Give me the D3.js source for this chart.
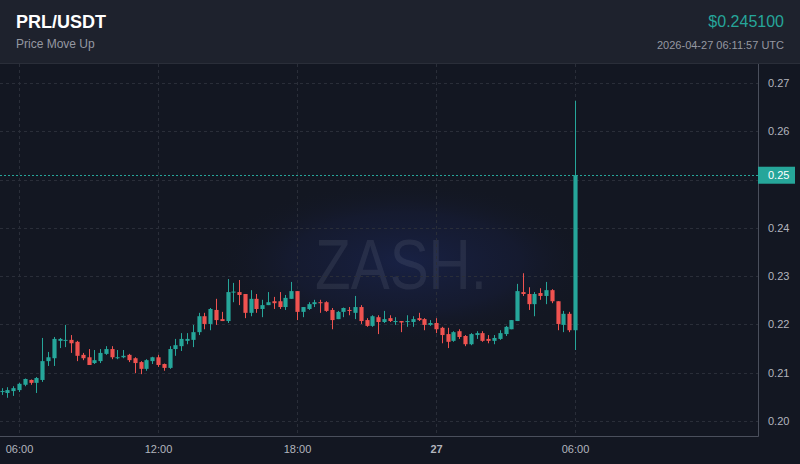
<!DOCTYPE html>
<html>
<head>
<meta charset="utf-8">
<script src="https://cdn.jsdelivr.net/npm/d3@7"></script>
<style>
  body { margin: 0; background: #131722; }
  svg { display: block; font-family: "Liberation Sans", Arial, sans-serif; }
</style>
</head>
<body>
<svg id="chart" width="800" height="464"></svg>
<script>
// 15 minute candles, 26 Apr 05:15 -> 27 Apr 06:00 UTC
var opens = [0.2060,0.2058,0.2062,0.2064,0.2075,0.2085,0.2079,0.2085,0.2124,0.2130,
  0.2166,0.2166,0.2168,0.2164,0.2137,0.2132,0.2120,0.2124,0.2139,0.2149,
  0.2131,0.2132,0.2137,0.2130,0.2122,0.2108,0.2124,0.2132,0.2118,0.2110,
  0.2149,0.2155,0.2166,0.2168,0.2184,0.2217,0.2201,0.2230,0.2211,0.2207,
  0.2266,0.2267,0.2263,0.2224,0.2253,0.2232,0.2240,0.2248,0.2248,0.2236,
  0.2253,0.2269,0.2226,0.2232,0.2242,0.2246,0.2246,0.2230,0.2211,0.2226,
  0.2230,0.2224,0.2236,0.2209,0.2197,0.2215,0.2205,0.2213,0.2206,0.2207,
  0.2206,0.2205,0.2213,0.2211,0.2199,0.2203,0.2193,0.2180,0.2166,0.2186,
  0.2176,0.2159,0.2178,0.2182,0.2170,0.2166,0.2170,0.2180,0.2190,0.2207,
  0.2267,0.2263,0.2242,0.2265,0.2259,0.2271,0.2248,0.2199,0.2222,0.2188];
var highs = [0.2068,0.2070,0.2072,0.2079,0.2088,0.2086,0.2091,0.2172,0.2143,0.2174,
  0.2172,0.2199,0.2178,0.2166,0.2141,0.2149,0.2147,0.2149,0.2155,0.2155,
  0.2147,0.2147,0.2139,0.2132,0.2124,0.2128,0.2133,0.2137,0.2119,0.2155,
  0.2170,0.2182,0.2182,0.2199,0.2224,0.2224,0.2234,0.2253,0.2226,0.2294,
  0.2286,0.2292,0.2263,0.2271,0.2263,0.2251,0.2267,0.2257,0.2267,0.2261,
  0.2288,0.2269,0.2236,0.2246,0.2251,0.2251,0.2248,0.2234,0.2228,0.2235,
  0.2236,0.2259,0.2240,0.2213,0.2219,0.2219,0.2228,0.2219,0.2215,0.2207,
  0.2219,0.2217,0.2224,0.2213,0.2209,0.2213,0.2195,0.2193,0.2186,0.2190,
  0.2178,0.2182,0.2186,0.2186,0.2178,0.2178,0.2188,0.2197,0.2209,0.2284,
  0.2306,0.2277,0.2267,0.2275,0.2288,0.2273,0.2248,0.2228,0.2226,0.2663];
var lows = [0.2054,0.2048,0.2052,0.2060,0.2072,0.2075,0.2058,0.2081,0.2114,0.2114,
  0.2151,0.2153,0.2141,0.2124,0.2126,0.2116,0.2118,0.2120,0.2137,0.2128,
  0.2128,0.2130,0.2122,0.2099,0.2097,0.2104,0.2118,0.2112,0.2104,0.2108,
  0.2135,0.2145,0.2159,0.2153,0.2178,0.2190,0.2188,0.2199,0.2207,0.2203,
  0.2246,0.2240,0.2213,0.2217,0.2224,0.2215,0.2240,0.2232,0.2232,0.2230,
  0.2253,0.2209,0.2215,0.2230,0.2236,0.2224,0.2226,0.2190,0.2211,0.2215,
  0.2219,0.2211,0.2201,0.2195,0.2195,0.2180,0.2203,0.2205,0.2199,0.2184,
  0.2195,0.2195,0.2207,0.2188,0.2197,0.2182,0.2161,0.2151,0.2164,0.2170,
  0.2155,0.2157,0.2170,0.2164,0.2161,0.2159,0.2168,0.2176,0.2190,0.2207,
  0.2259,0.2230,0.2217,0.2251,0.2242,0.2244,0.2188,0.2184,0.2184,0.2147];
var closes = [0.2062,0.2064,0.2068,0.2077,0.2087,0.2079,0.2089,0.2124,0.2132,0.2170,
  0.2170,0.2168,0.2161,0.2135,0.2130,0.2116,0.2126,0.2141,0.2149,0.2132,
  0.2132,0.2135,0.2126,0.2120,0.2108,0.2126,0.2132,0.2116,0.2110,0.2149,
  0.2157,0.2170,0.2170,0.2184,0.2217,0.2201,0.2232,0.2209,0.2207,0.2267,
  0.2268,0.2261,0.2224,0.2253,0.2232,0.2240,0.2246,0.2244,0.2236,0.2255,
  0.2269,0.2226,0.2236,0.2242,0.2246,0.2244,0.2228,0.2209,0.2226,0.2234,
  0.2228,0.2236,0.2207,0.2197,0.2217,0.2205,0.2211,0.2207,0.2207,0.2204,
  0.2207,0.2211,0.2209,0.2199,0.2203,0.2190,0.2178,0.2164,0.2184,0.2174,
  0.2159,0.2180,0.2182,0.2166,0.2166,0.2172,0.2182,0.2195,0.2209,0.2269,
  0.2263,0.2242,0.2263,0.2259,0.2271,0.2248,0.2201,0.2222,0.2188,0.2509];
var priceTicks = [0.20, 0.21, 0.22, 0.23, 0.24, 0.25, 0.26, 0.27];
var timeTicks = ["2026-04-26T06:00Z", "2026-04-26T12:00Z", "2026-04-26T18:00Z",
  "2026-04-27T00:00Z", "2026-04-27T06:00Z"];
var firstCandle = "2026-04-26T05:15Z";

var UP = "#26a69a", DOWN = "#ef5350";
var W = 800, H = 464;
var plot = {left: 0, right: 758, top: 64, bottom: 436};

var svg = d3.select("#chart");

var start = new Date(firstCandle);
var candles = closes.map(function(c, i){
    return {t: d3.utcMinute.offset(start, 15 * i), o: opens[i], h: highs[i], l: lows[i], c: c};
});
var last = candles[candles.length - 1];

// x scale: pin the 06:00 ticks, then stretch to the full plot width
var x = d3.scaleUtc()
    .domain([new Date(timeTicks[0]), new Date(timeTicks[4])])
    .range([19, 575]);
x.domain([x.invert(plot.left), x.invert(plot.right)]).range([plot.left, plot.right]);

var y = d3.scaleLinear().domain([0.20, 0.27]).range([421, 83]);

// background
svg.append("rect").attr("width", W).attr("height", H).attr("fill", "#131722");

// watermark glow
var defs = svg.append("defs");
var grad = defs.append("radialGradient").attr("id", "glow");
grad.append("stop").attr("offset", "0%").attr("stop-color", "#1d2b66").attr("stop-opacity", 0.5);
grad.append("stop").attr("offset", "60%").attr("stop-color", "#1a2350").attr("stop-opacity", 0.28);
grad.append("stop").attr("offset", "100%").attr("stop-color", "#131722").attr("stop-opacity", 0);
defs.append("clipPath").attr("id", "plotclip")
    .append("rect").attr("x", plot.left).attr("y", plot.top)
    .attr("width", plot.right - plot.left).attr("height", plot.bottom - plot.top);

var g = svg.append("g").attr("clip-path", "url(#plotclip)");

g.append("ellipse").attr("cx", 405).attr("cy", 262).attr("rx", 195).attr("ry", 82)
    .attr("fill", "url(#glow)");

g.append("text")
    .attr("x", 315).attr("y", 289)
    .attr("textLength", 172).attr("lengthAdjust", "spacingAndGlyphs")
    .style("font-size", "70px")
    .style("fill", "#8e93a0").style("fill-opacity", 0.14)
    .text("ZASH.");

// grid
g.selectAll(".hgrid").data(priceTicks).enter().append("line")
    .attr("x1", plot.left).attr("x2", plot.right)
    .attr("y1", function(d){ return Math.round(y(d)) + 0.5; })
    .attr("y2", function(d){ return Math.round(y(d)) + 0.5; })
    .style("stroke", "#2a2e39").style("stroke-dasharray", "3,3");

g.selectAll(".vgrid").data(timeTicks).enter().append("line")
    .attr("y1", plot.top).attr("y2", plot.bottom)
    .attr("x1", function(d){ return Math.round(x(new Date(d))) + 0.5; })
    .attr("x2", function(d){ return Math.round(x(new Date(d))) + 0.5; })
    .style("stroke", "#2a2e39").style("stroke-dasharray", "3,3");

// candles
var step = x(d3.utcMinute.offset(start, 15)) - x(start);
var bw = Math.max(1, step * 0.72);

var cg = g.selectAll(".candle").data(candles).enter().append("g");

cg.append("line")
    .attr("x1", function(d){ return Math.round(x(d.t)) + 0.5; })
    .attr("x2", function(d){ return Math.round(x(d.t)) + 0.5; })
    .attr("y1", function(d){ return y(d.h); })
    .attr("y2", function(d){ return y(d.l); })
    .style("stroke", function(d){ return d.c >= d.o ? UP : DOWN; })
    .style("stroke-width", 1);

cg.append("rect")
    .attr("x", function(d){ return Math.round(x(d.t)) + 0.5 - bw / 2; })
    .attr("width", bw)
    .attr("y", function(d){ return y(Math.max(d.o, d.c)); })
    .attr("height", function(d){ return Math.max(1, Math.abs(y(d.o) - y(d.c))); })
    .style("fill", function(d){ return d.c >= d.o ? UP : DOWN; });

// last price line
g.append("line")
    .attr("x1", plot.left).attr("x2", plot.right)
    .attr("y1", Math.round(y(last.c)) + 0.5).attr("y2", Math.round(y(last.c)) + 0.5)
    .style("stroke", UP).style("stroke-dasharray", "2,2").style("stroke-width", 1);

// axes borders
svg.append("line").attr("x1", plot.right + 0.5).attr("x2", plot.right + 0.5)
    .attr("y1", plot.top).attr("y2", plot.bottom + 0.5)
    .style("stroke", "#4a4f5c");
svg.append("line").attr("x1", plot.left).attr("x2", plot.right + 0.5)
    .attr("y1", plot.bottom + 0.5).attr("y2", plot.bottom + 0.5)
    .style("stroke", "#4a4f5c");

// price axis (the tick under the last-price tag is hidden, as the tag covers it)
var ty = y(last.c);
var yAxis = svg.append("g")
    .attr("transform", "translate(" + plot.right + ",0)")
    .call(d3.axisRight(y)
        .tickValues(priceTicks.filter(function(d){ return Math.abs(y(d) - ty) > 12; }))
        .tickFormat(d3.format(".2f")).tickSize(0).tickPadding(10));
yAxis.select(".domain").remove();
yAxis.selectAll("text")
    .style("font-size", "11px").style("fill", "#b2b5be")
    .attr("font-family", null);

// last price tag
svg.append("rect").attr("x", plot.right).attr("y", ty - 8.5).attr("width", 37).attr("height", 17)
    .attr("fill", UP);
svg.append("text").attr("x", plot.right + 10).attr("y", ty + 4)
    .style("font-size", "11px").style("fill", "#ffffff")
    .text(d3.format(".2f")(last.c));

// time axis
var xAxis = svg.append("g")
    .attr("transform", "translate(0," + plot.bottom + ")")
    .call(d3.axisBottom(x)
        .tickValues(timeTicks.map(function(d){ return new Date(d); }))
        .tickFormat(function(d){
            return d.getUTCHours() === 0 ? d3.utcFormat("%-d")(d) : d3.utcFormat("%H:%M")(d);
        })
        .tickSize(0).tickPadding(9));
xAxis.select(".domain").remove();
xAxis.selectAll("text")
    .attr("font-family", null)
    .style("font-size", "11px").style("fill", "#b2b5be")
    .style("font-weight", function(d){ return d.getUTCHours() === 0 ? "bold" : "normal"; });

// header
svg.append("rect").attr("width", W).attr("height", 63).attr("fill", "#1e222d");
svg.append("line").attr("x1", 0).attr("x2", W).attr("y1", 63.5).attr("y2", 63.5)
    .style("stroke", "#2a2e39");

svg.append("text").attr("x", 16).attr("y", 28)
    .style("font-size", "18px").style("font-weight", "bold").style("fill", "#ffffff")
    .text("PRL/USDT");
svg.append("text").attr("x", 16).attr("y", 48)
    .style("font-size", "12px").style("fill", "#9598a1")
    .text("Price Move Up");
svg.append("text").attr("x", 784).attr("y", 27).attr("text-anchor", "end")
    .style("font-size", "16px").style("fill", UP)
    .text("$0.245100");
svg.append("text").attr("x", 784).attr("y", 49).attr("text-anchor", "end")
    .style("font-size", "11px").style("fill", "#9598a1")
    .text("2026-04-27 06:11:57 UTC");
</script>
</body>
</html>
